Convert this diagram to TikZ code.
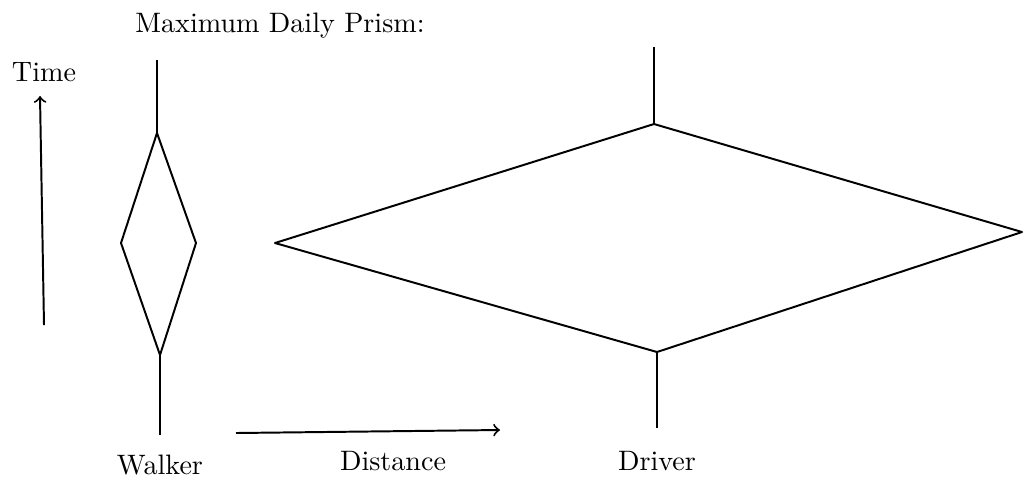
\documentclass[tikz,border=0pt]{standalone}
\usetikzlibrary{positioning}

\begin{document}
\begin{tikzpicture}[
    x=0.125mm, y=-0.125mm,   % one unit is one pixel of the scan
    prism/.style={line width=0.7pt, line join=round},
    axis/.style={line width=0.7pt, ->},
    lbl/.style={inner sep=1pt}
]
\useasboundingbox (0,0) rectangle (1025,478);

% title and axes
\node[lbl] (title) at (280,26) {Maximum Daily Prism:};
\node[lbl] (time) at (44,72) {Time};
\coordinate (t0) at (44,325);
\coordinate (t1) at (40,96);
\draw[axis] (t0) -- (t1);
\coordinate (d0) at (236,433);
\coordinate (d1) at (500,430);
\draw[axis] (d0) -- (d1);
\node[lbl] (distance) at (393,461) {Distance};

% walker prism
\coordinate (wtop) at (157,60);
\coordinate (wn) at (157,133);
\coordinate (ww) at (121,243);
\coordinate (we) at (196,243);
\coordinate (ws) at (160,355);
\coordinate (wbot) at (160,435);
\draw[prism] (wn) -- (we) -- (ws) -- (ww) -- cycle;
\draw[prism] (wtop) -- (wn);
\draw[prism] (ws) -- (wbot);
\node[lbl] (walker) at (160,465) {Walker};

% driver prism
\coordinate (dtop) at (654,47);
\coordinate (dn) at (654,124);
\coordinate (dw) at (275,243);
\coordinate (de) at (1022,232);
\coordinate (ds) at (657,352);
\coordinate (dbot) at (657,428);
\draw[prism] (dn) -- (de) -- (ds) -- (dw) -- cycle;
\draw[prism] (dtop) -- (dn);
\draw[prism] (ds) -- (dbot);
\node[lbl] (driver) at (657,461) {Driver};
\end{tikzpicture}
\end{document}
